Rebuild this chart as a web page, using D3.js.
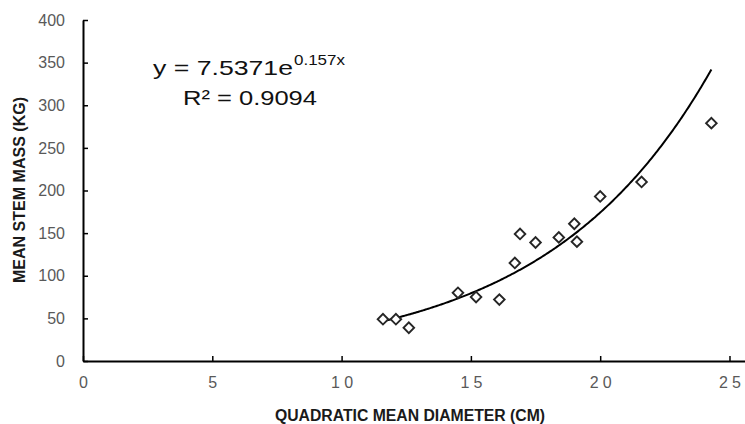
<!DOCTYPE html>
<html>
<head>
<meta charset="utf-8">
<script src="https://cdn.jsdelivr.net/npm/d3@7"></script>
<style>
  body { margin: 0; background: #fff; }
  svg { display: block; }
  .tick text { font-family: "Liberation Sans", Arial, sans-serif; fill: #595959; }
</style>
</head>
<body>
<div id="chart"></div>
<script>
// diameter (cm) vs mean stem mass (kg)
var diameters = [11.6, 12.1, 12.6, 14.5, 15.2, 16.1, 16.7, 16.9, 17.5, 18.4, 19.0, 19.1, 20.0, 21.6, 24.3];
var masses    = [49, 49, 39, 80, 75, 72, 115, 149, 139, 145, 161, 140, 193, 210, 279];

var xTicks = [0, 5, 10, 15, 20, 25];
var yTicks = [0, 50, 100, 150, 200, 250, 300, 350, 400];

// exponential trendline shown on the chart
var fitA = 7.5371;
var fitB = 0.157;
var fitR2 = "0.9094";

var xTitle = "QUADRATIC MEAN DIAMETER (CM)";
var yTitle = "MEAN STEM MASS (KG)";

var width = 745, height = 424;
var plotLeft = 83, plotRight = 745, plotTop = 20, plotBottom = 361;

var svg = d3.select("#chart").append("svg")
  .attr("width", width)
  .attr("height", height);

var x = d3.scaleLinear().domain([0, 25.6]).range([plotLeft, plotRight]);
var y = d3.scaleLinear().domain([0, 400]).range([plotBottom, plotTop]);

// axes
var xAxis = svg.append("g")
  .attr("transform", "translate(0," + plotBottom + ")")
  .call(d3.axisBottom(x).tickValues(xTicks).tickSizeInner(-5).tickSizeOuter(0).tickPadding(16));
xAxis.select(".domain").attr("stroke", "#000").attr("stroke-width", 2);
xAxis.selectAll(".tick line").attr("stroke", "#000").attr("stroke-width", 1.5);
xAxis.selectAll(".tick text")
  .attr("font-size", 16)
  .filter(function (d) { return String(d).length > 1; })
  .attr("textLength", 22)
  .attr("lengthAdjust", "spacing");

var yAxis = svg.append("g")
  .attr("transform", "translate(" + plotLeft + ",0)")
  .call(d3.axisLeft(y).tickValues(yTicks).tickSizeInner(-5).tickSizeOuter(0).tickPadding(18));
yAxis.select(".domain").attr("stroke", "#000").attr("stroke-width", 2);
yAxis.selectAll(".tick line").attr("stroke", "#000").attr("stroke-width", 1.5);
yAxis.selectAll(".tick text").attr("font-size", 16);

// trendline
var xs = d3.range(d3.min(diameters), d3.max(diameters) + 0.001, 0.05);
var line = d3.line()
  .x(function (d) { return x(d); })
  .y(function (d) { return y(fitA * Math.exp(fitB * d)); });
svg.append("path")
  .attr("d", line(xs))
  .attr("fill", "none")
  .attr("stroke", "#000")
  .attr("stroke-width", 2);

// points
var diamond = d3.symbol().type(d3.symbolSquare).size(56);
svg.selectAll(".pt")
  .data(diameters)
  .enter().append("path")
  .attr("class", "pt")
  .attr("d", diamond)
  .attr("transform", function (d, i) {
    return "translate(" + x(d) + "," + y(masses[i]) + ") rotate(45)";
  })
  .attr("fill", "#fff")
  .attr("stroke", "#262626")
  .attr("stroke-width", 1.9);

// equation
var eq = svg.append("g")
  .attr("font-family", "Liberation Sans, Arial, sans-serif")
  .attr("fill", "#111");
eq.append("text")
  .attr("x", 153).attr("y", 75)
  .attr("font-size", 21)
  .attr("textLength", 140).attr("lengthAdjust", "spacingAndGlyphs")
  .text("y = " + fitA + "e");
eq.append("text")
  .attr("x", 294).attr("y", 65)
  .attr("font-size", 14.5)
  .attr("textLength", 51).attr("lengthAdjust", "spacingAndGlyphs")
  .text(fitB + "x");
eq.append("text")
  .attr("x", 183).attr("y", 105)
  .attr("font-size", 21)
  .attr("textLength", 134).attr("lengthAdjust", "spacingAndGlyphs")
  .text("R\u00b2 = " + fitR2);

// titles
svg.append("text")
  .attr("x", 410).attr("y", 421)
  .attr("text-anchor", "middle")
  .attr("font-family", "Liberation Sans, Arial, sans-serif")
  .attr("font-weight", "bold")
  .attr("font-size", 16)
  .attr("fill", "#1a1a1a")
  .attr("textLength", 270).attr("lengthAdjust", "spacingAndGlyphs")
  .text(xTitle);

svg.append("text")
  .attr("transform", "translate(25,190) rotate(-90)")
  .attr("text-anchor", "middle")
  .attr("font-family", "Liberation Sans, Arial, sans-serif")
  .attr("font-weight", "bold")
  .attr("font-size", 16)
  .attr("fill", "#1a1a1a")
  .attr("textLength", 186).attr("lengthAdjust", "spacingAndGlyphs")
  .text(yTitle);
</script>
</body>
</html>
